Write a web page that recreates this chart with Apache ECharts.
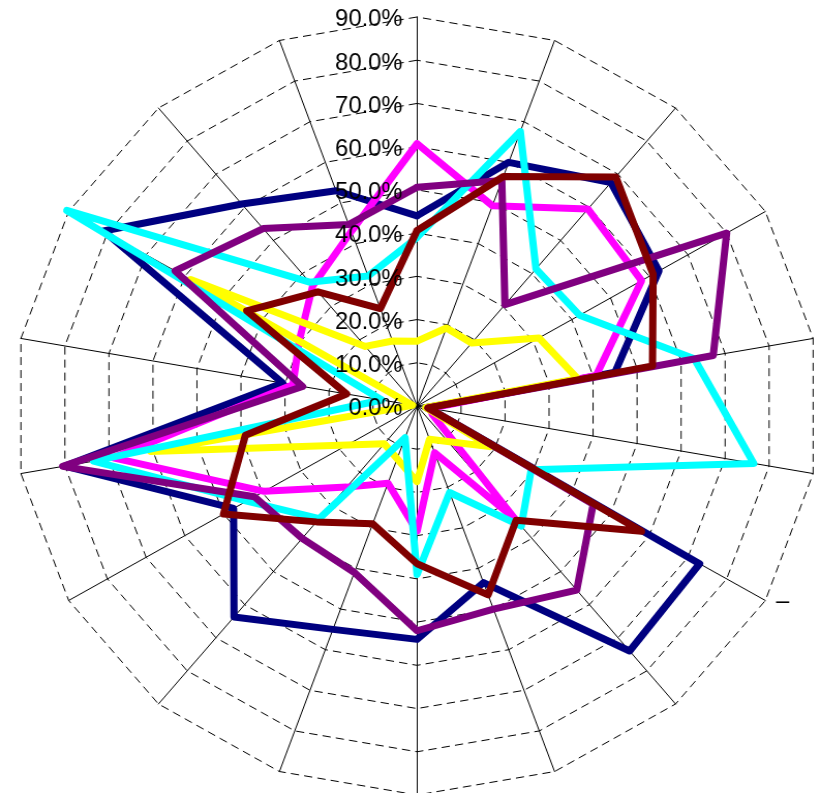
<!DOCTYPE html>
<html>
<head>
<meta charset="utf-8">
<script src="https://cdn.jsdelivr.net/npm/echarts@6/dist/echarts.min.js"></script>
<style>
html,body{margin:0;padding:0;background:#ffffff;overflow:hidden;}
#wrap{width:817px;height:793px;overflow:hidden;position:relative;}
/* the reference plot is slightly wider than tall: stretch horizontally */
#chart{width:790px;height:793px;transform:scaleX(1.034);transform-origin:0 0;}
</style>
</head>
<body>
<div id="wrap"><div id="chart"></div></div>
<script>
// Categories listed clockwise starting from the top spoke
const categories = ['', '', '', '', '', '', '\u2013', '', '', '', '', '', '', '', '', '', '', ''];
const tickLabels = ['0.0%', '10.0%', '20.0%', '30.0%', '40.0%', '50.0%', '60.0%', '70.0%', '80.0%', '90.0%'];
const axisMax = 90;

// Series values in percent, clockwise from the top spoke
const navyValues    = [44, 60, 67.5, 62.5, 45, 2.5, 73, 74, 43.5, 54, 55, 63.7, 47.4, 80, 30.5, 81, 61, 53];
const magentaValues = [60.7, 49.3, 59.5, 58, 40.7, 3, 4, 34, 11.5, 29, 19, 24.5, 39.5, 69, 28.2, 30.4, 36.3, 43];
const yellowValues  = [15, 19.2, 19, 31.5, 36.5, 2, 18.8, 10.7, 8.2, 17.5, 13, 11.4, 18, 60.5, 1, 58.5, 18, 16];
const cyanValues    = [39, 67.6, 41.4, 42, 63, 76.5, 29.5, 36.3, 21.3, 39, 7.8, 34, 44, 73.5, 8, 90.5, 37.4, 32];
const purpleValues  = [50.6, 55.5, 30.6, 80, 67.3, 2.5, 45.5, 55.6, 50, 52, 41, 40, 42, 80.5, 26, 62.5, 53.6, 44.7];
const darkRedValues = [40.6, 56.5, 69.2, 61, 53.5, 2.5, 58, 34.5, 46.5, 36.5, 29, 35, 50, 39, 16, 44, 34.5, 24];

const seriesNames  = ['Series1', 'Series2', 'Series3', 'Series4', 'Series5', 'Series6'];
const seriesColors = ['#000080', '#FF00FF', '#FFFF00', '#00FFFF', '#800080', '#800000'];
const seriesValues = [navyValues, magentaValues, yellowValues, cyanValues, purpleValues, darkRedValues];

// ECharts lays radar indicators out counter-clockwise; reorder the clockwise lists.
const n = categories.length;
function toCCW(arr) {
  const out = [];
  for (let i = 0; i < n; i++) out.push(arr[(n - i) % n]);
  return out;
}

const FONT = '"Liberation Sans", Arial, sans-serif';
const ccwNames = toCCW(categories);

const gridIndicators = ccwNames.map(name => ({ name: name, min: 0, max: axisMax }));
const labelIndicators = ccwNames.map((name, i) => ({
  name: '', min: 0, max: axisMax,
  axisLabel: { show: i === 0 }
}));

const common = {
  center: [403.3, 406],
  radius: 389,
  startAngle: 90,
  splitNumber: 9,
  shape: 'polygon'
};

const chart = echarts.init(document.getElementById('chart'), null, { renderer: 'canvas' });
chart.setOption({
  backgroundColor: '#ffffff',
  animation: false,
  radar: [
    Object.assign({}, common, {
      indicator: gridIndicators,
      axisName: {
        show: true, color: '#000000', fontSize: 23, fontFamily: FONT,
        formatter: function (name) { return name ? '{d|' + name + '}' : ''; },
        rich: { d: { color: '#000000', fontSize: 23, fontFamily: FONT, padding: [0, 0, 10, 0] } }
      },
      nameGap: 12,
      axisLine: { show: true, lineStyle: { color: '#000000', width: 1 } },
      axisTick: { show: false },
      axisLabel: { show: false },
      splitLine: { show: true, lineStyle: { color: '#000000', width: 1, type: [8, 5] } },
      splitArea: { show: false }
    }),
    Object.assign({}, common, {
      z: 10,
      indicator: labelIndicators,
      axisName: { show: false },
      axisLine: { show: false },
      axisTick: { show: false },
      splitLine: { show: false },
      splitArea: { show: false },
      axisLabel: {
        show: false,
        color: '#000000',
        fontSize: 23,
        fontFamily: FONT,
        margin: 14,
        formatter: function (v) { return '{t|' + tickLabels[Math.round(v / 10)] + '}'; },
        rich: { t: { color: '#000000', fontSize: 23, fontFamily: FONT, padding: [6, 0, 0, 0] } }
      }
    })
  ],
  series: seriesNames.map((name, s) => ({
    type: 'radar',
    radarIndex: 0,
    name: name,
    symbol: 'none',
    z: 2 + s * 0.01,
    lineStyle: { color: seriesColors[s], width: 7, join: 'round', cap: 'round' },
    itemStyle: { color: seriesColors[s] },
    data: [{ value: toCCW(seriesValues[s]), name: name }]
  }))
});
</script>
</body>
</html>
